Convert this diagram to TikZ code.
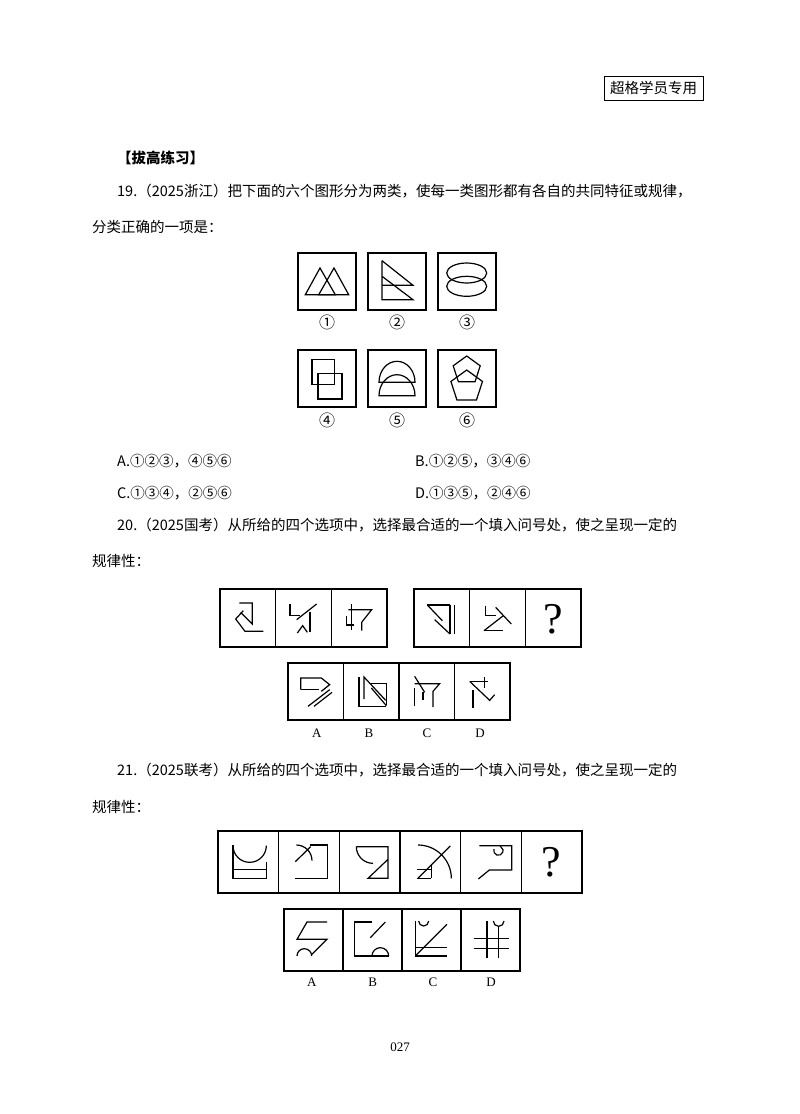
\documentclass[tikz,border=0pt]{standalone}
\usepackage{fontspec}
\usetikzlibrary{calc}
\setmainfont{Noto Sans CJK SC}
\newfontfamily\latinserif{Liberation Serif}
\tikzset{
  bx/.style={draw,line width=1.4pt},
  gl/.style={line width=1.2pt,line cap=butt},
  txt/.style={anchor=base west,inner sep=0pt,font=\fontsize{14.5}{16}\selectfont},
  lab/.style={inner sep=0pt,font=\fontsize{16}{18}\selectfont},
  abc/.style={inner sep=0pt,font=\latinserif\fontsize{13}{15}\selectfont},
  qm/.style={inner sep=0pt,font=\latinserif\fontsize{44}{44}\selectfont}
}
\begin{document}
\begin{tikzpicture}[x=1pt,y=-1pt]
\useasboundingbox (0,0) rectangle (800,1114);
\fill[white] (0,0) rectangle (800,1114);
% header
\draw[line width=1pt] (604,76) rectangle (703,100);
\node[inner sep=0pt,font=\fontsize{14.5}{16}\selectfont] (hdr) at (653.5,88) {超格学员专用};
\node[txt,font=\fontsize{14.5}{16}\selectfont\bfseries] (t0) at (117,163) {【拔高练习】};
\node[txt] (t1) at (117,196) {19.（2025浙江）把下面的六个图形分为两类，使每一类图形都有各自的共同特征或规律，};
\node[txt] (t2) at (92,232) {分类正确的一项是：};
% Q19 boxes
\foreach \x/\y in {298/253,368/253,438/253,298/350,368/350,438/350}{
  \draw[bx] (\x,\y) rectangle ++(58,57);
}
\begin{scope}[shift={(298,253)},gl]
  \draw (7.3,41.7) -- (22,15) -- (37.3,41.7) -- cycle;
  \draw (20.7,41.7) -- (36,15) -- (50.7,41.7) -- cycle;
\end{scope}
\begin{scope}[shift={(368,253)},gl]
  \draw (14,7.7) -- (14,46.7) -- (45,46.7) -- (14,23.3);
  \draw (14,7.7) -- (45,32.3) -- (14,32.3);
\end{scope}
\begin{scope}[shift={(438,253)},gl]
  \draw (28.7,20) ellipse [x radius=20,y radius=10];
  \draw (28.7,33.3) ellipse [x radius=20,y radius=10];
\end{scope}
\begin{scope}[shift={(298,350)},gl]
  \draw (14,9.3) rectangle (36.7,34.3);
  \draw (20,23.3) rectangle (44,49);
\end{scope}
\begin{scope}[shift={(368,350)},gl]
  \draw (11,32.3) arc[start angle=180,end angle=360,x radius=18,y radius=21] -- cycle;
  \draw (11,45.7) arc[start angle=180,end angle=360,x radius=18,y radius=21] -- cycle;
\end{scope}
\begin{scope}[shift={(438,350)},gl]
  \coordinate (p1) at (28.7,20.2);
  \draw ($(p1)+(-90:14.2)$) -- ($(p1)+(-18:14.2)$) -- ($(p1)+(54:14.2)$) -- ($(p1)+(126:14.2)$) -- ($(p1)+(198:14.2)$) -- cycle;
  \coordinate (p2) at (28.7,36.6);
  \draw ($(p2)+(-90:16.6)$) -- ($(p2)+(-18:16.6)$) -- ($(p2)+(54:16.6)$) -- ($(p2)+(126:16.6)$) -- ($(p2)+(198:16.6)$) -- cycle;
\end{scope}
\node[lab] (c1) at (327,322) {①};
\node[lab] (c2) at (397,322) {②};
\node[lab] (c3) at (467,322) {③};
\node[lab] (c4) at (327,420) {④};
\node[lab] (c5) at (397,420) {⑤};
\node[lab] (c6) at (467,420) {⑥};
\node[txt] (oa) at (117,466) {A.①②③，④⑤⑥};
\node[txt] (ob) at (415,466) {B.①②⑤，③④⑥};
\node[txt] (oc) at (117,498) {C.①③④，②⑤⑥};
\node[txt] (od) at (415,498) {D.①③⑤，②④⑥};
\node[txt] (t3) at (117,530) {20.（2025国考）从所给的四个选项中，选择最合适的一个填入问号处，使之呈现一定的};
\node[txt] (t4) at (92,566) {规律性：};
% Q20 boxes
\foreach \x in {220,275.7,331.3,414,469.7,525.3}{\draw[bx] (\x,589) rectangle ++(55.7,58);}
\foreach \x in {288,343.5,399,454.5}{\draw[bx] (\x,663) rectangle ++(55.5,57);}
\begin{scope}[shift={(220,589)},scale=1/3,gl]
  \draw (58,42) -- (97,42) -- (97,105) -- (62,70);
  \draw (70,65) -- (47,90) -- (75,127) -- (130,127);
  \draw (210,45) -- (210,80) -- (240,80);
  \draw (230,92) -- (290,45);
  \draw (270,68) -- (270,130);
  \draw (232,132) -- (248,110) -- (262,130);
  \draw (380,82) -- (380,108) -- (403,108);
  \draw (395,45) -- (395,122);
  \draw (385,62) -- (455,62) -- (425,100) -- (425,125);
\end{scope}
\begin{scope}[shift={(414,589)},scale=1/3,gl]
  \draw (40,48) -- (108,48);
  \draw (40,48) -- (85,95);
  \draw (108,48) -- (108,135);
  \draw (122,48) -- (122,135);
  \draw (62,92) -- (108,135);
  \draw (215,50) -- (215,80) -- (245,80);
  \draw (245,55) -- (292,105);
  \draw (210,125) -- (268,125);
  \draw (210,125) -- (268,80);
\end{scope}
\node[qm] (q20) at (553.2,619) {?};
\begin{scope}[shift={(288,663)},scale=1/3,gl]
  \draw (38,80) -- (38,45) -- (100,45) -- (125,65) -- (100,85);
  \draw (38,80) -- (92,80);
  \draw (60,130) -- (125,80);
  \draw (78,130) -- (132,88);
  \draw (213,42) -- (213,130) -- (295,130);
  \draw (228,108) -- (228,42) -- (293,112);
  \draw (250,62) -- (295,62) -- (295,125);
  \draw (250,75) -- (295,128);
  \draw (380,40) -- (410,88);
  \draw (380,62) -- (455,62) -- (435,85) -- (435,132);
  \draw (380,75) -- (380,130);
  \draw (405,88) -- (405,112);
  \draw (545,55) -- (600,55);
  \draw (545,55) -- (605,112) -- (620,95);
  \draw (590,42) -- (590,75);
  \draw (555,80) -- (555,135);
\end{scope}
\node[abc] (la) at (316.7,733) {A};
\node[abc] (lb) at (369,733) {B};
\node[abc] (lc) at (427,733) {C};
\node[abc] (ld) at (480,733) {D};
\node[txt] (t5) at (117,775) {21.（2025联考）从所给的四个选项中，选择最合适的一个填入问号处，使之呈现一定的};
\node[txt] (t6) at (92,812) {规律性：};
% Q21 boxes
\foreach \i in {0,...,5}{\draw[bx] (218+60.67*\i,831) rectangle ++(60.67,62);}
\foreach \i in {0,...,3}{\draw[bx] (284+59*\i,909) rectangle ++(59,62);}
\begin{scope}[shift={(218,830)},scale=1/3,gl]
  \draw (45,45) -- (45,145) -- (145,145) -- (145,95);
  \draw (45,118) -- (145,118);
  \draw (45,47) arc[start angle=180,end angle=0,radius=50];
  \draw (275,45) -- (328,45) -- (328,145) -- (230,145);
  \draw (232,95) -- (278,50);
  \draw (235,45) arc[start angle=-90,end angle=0,radius=47];
  \draw (415,50) -- (510,50) -- (510,145) -- (450,145) -- (510,88);
  \draw (415,50) arc[start angle=180,end angle=90,radius=50];
  \draw (600,45) arc[start angle=-90,end angle=0,radius=100];
  \draw (600,145) -- (697,48);
  \draw (598,118) -- (640,118);
  \draw (598,145) -- (640,145);
  \draw (640,105) -- (640,145);
\end{scope}
\begin{scope}[shift={(210,825)},scale=1/3,gl]
  \draw (808,62) -- (905,62) -- (905,135) -- (838,135) -- (805,162);
  \draw (852,72) arc[start angle=200,end angle=-10,radius=14] -- (870,62);
\end{scope}
\node[qm] (q21) at (551.7,862) {?};
\begin{scope}[shift={(282,906)},scale=1/3,gl]
  \draw (135,48) -- (75,48) -- (45,100) -- (135,100) -- (90,145);
  \draw (45,150) arc[start angle=180,end angle=360,radius=22];
  \draw (270,48) -- (218,48) -- (218,150) -- (320,150);
  \draw (310,48) -- (265,95);
  \draw (270,150) arc[start angle=180,end angle=360,radius=25];
  \draw (400,45) -- (400,150) -- (495,150);
  \draw (400,125) -- (495,125);
  \draw (400,150) -- (495,55);
  \draw (410,45) arc[start angle=180,end angle=0,radius=15];
  \draw (615,45) -- (615,155);
  \draw (650,60) -- (650,155);
  \draw (634,45) arc[start angle=180,end angle=0,radius=16];
  \draw (575,98) -- (680,98);
  \draw (575,128) -- (680,128);
\end{scope}
\node[abc] (ma) at (311.7,982) {A};
\node[abc] (mb) at (372.7,982) {B};
\node[abc] (mc) at (433,982) {C};
\node[abc] (md) at (491,982) {D};
\node[abc] (pg) at (400,1047) {027};
\end{tikzpicture}
\end{document}
